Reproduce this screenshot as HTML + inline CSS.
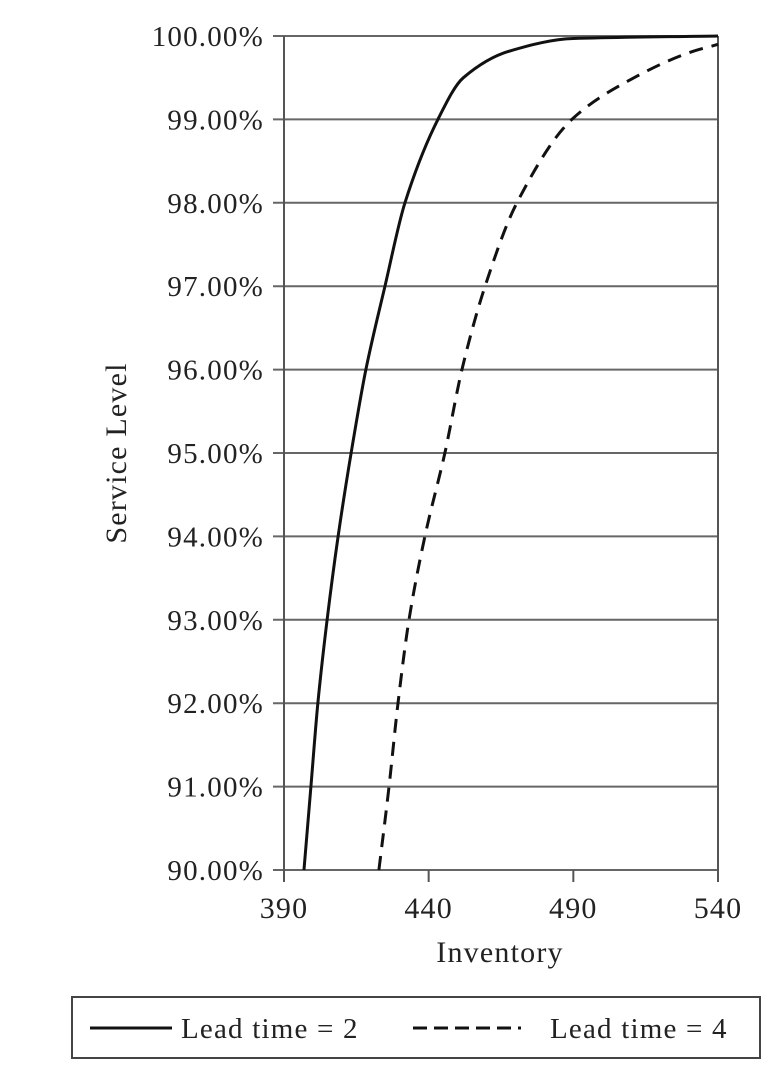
<!DOCTYPE html>
<html><head><meta charset="utf-8"><style>
body{margin:0;background:#fff;}
svg{display:block;font-family:"Liberation Serif",serif;}
text{letter-spacing:1.2px;}
</style></head><body>
<svg id="chart" width="784" height="1078"></svg>
<script>
const yTicks=[90,91,92,93,94,95,96,97,98,99,100];
const xTicks=[390,440,490,540];
const lt2Inv=[396.9,399.3,401.7,404.9,408.7,413.2,418.3,424.9,431.8,443.2,452,468,490,540];
const lt2Svc=[90,91,92,93,94,95,96,97,98,99,99.5,99.82,99.97,100];
const lt4Inv=[422.8,426.3,429.4,433.2,438.7,445.6,451.5,459.5,470.5,489.5,511,530,540];
const lt4Svc=[90,91,92,93,94,95,96,97,98,99,99.5,99.8,99.9];
const NS="http://www.w3.org/2000/svg";
const svg=document.getElementById('chart');
const L=284,R=718,T=36,B=870;
const xs=v=>L+(v-390)/150*(R-L);
const ys=v=>B-(v-90)/10*(B-T);
function mk(t,a){const e=document.createElementNS(NS,t);for(const k in a)e.setAttribute(k,a[k]);svg.appendChild(e);return e;}
yTicks.forEach(v=>{
  const g=mk('line',{x1:273,x2:R,y1:ys(v),y2:ys(v),stroke:'#666','stroke-width':2});
  
  
  const t=mk('text',{x:264,y:ys(v)+10,'text-anchor':'end','font-size':29,fill:'#222'});
  t.textContent=v.toFixed(2)+'%';
  
  
});
const ya=mk('line',{x1:L,x2:L,y1:T,y2:B+12,stroke:'#555','stroke-width':2});


const ra=mk('line',{x1:R,x2:R,y1:T,y2:B,stroke:'#555','stroke-width':2});


xTicks.forEach(v=>{
  const k=mk('line',{x1:xs(v),x2:xs(v),y1:B,y2:B+12,stroke:'#555','stroke-width':2});
  
  
  const t=mk('text',{x:xs(v),y:B+48,'text-anchor':'middle','font-size':30,fill:'#222'});
  t.textContent=v;
  
  
});
function path(inv,svc){
  const n=inv.length,x=inv.map(xs),y=svc.map(ys);
  const d=[],m=new Array(n);
  for(let i=0;i<n-1;i++)d.push((y[i+1]-y[i])/(x[i+1]-x[i]));
  m[0]=d[0];m[n-1]=d[n-2];
  for(let i=1;i<n-1;i++){m[i]=(d[i-1]*d[i]<=0)?0:(2/(1/d[i-1]+1/d[i]));}
  let s='M'+x[0]+','+y[0];
  for(let i=0;i<n-1;i++){
    const h=x[i+1]-x[i];
    s+=' C'+(x[i]+h/3)+','+(y[i]+m[i]*h/3)+' '+(x[i+1]-h/3)+','+(y[i+1]-m[i+1]*h/3)+' '+x[i+1]+','+y[i+1];
  }
  return s;
}
const s1=mk('path',{d:path(lt2Inv,lt2Svc),fill:'none',stroke:'#111','stroke-width':3});


const s2=mk('path',{d:path(lt4Inv,lt4Svc),fill:'none',stroke:'#111','stroke-width':3,'stroke-dasharray':'14,9'});


const xt=mk('text',{x:500,y:962,'text-anchor':'middle','font-size':30,fill:'#222'});
xt.textContent='Inventory';


const yt=mk('text',{x:0,y:0,'text-anchor':'middle','font-size':30,fill:'#222',transform:'translate(126,453) rotate(-90)'});
yt.textContent='Service Level';


const lb=mk('rect',{x:72,y:997,width:688,height:61,fill:'none',stroke:'#444','stroke-width':2});


const l1=mk('line',{x1:90,x2:172,y1:1028,y2:1028,stroke:'#111','stroke-width':3});


const t1=mk('text',{x:181,y:1038,'font-size':29,fill:'#222'});
t1.textContent='Lead time = 2';


const l2=mk('line',{x1:413,x2:521,y1:1028,y2:1028,stroke:'#111','stroke-width':3,'stroke-dasharray':'14,7'});


const t2=mk('text',{x:550,y:1038,'font-size':29,fill:'#222'});
t2.textContent='Lead time = 4';


</script>
</body></html>
